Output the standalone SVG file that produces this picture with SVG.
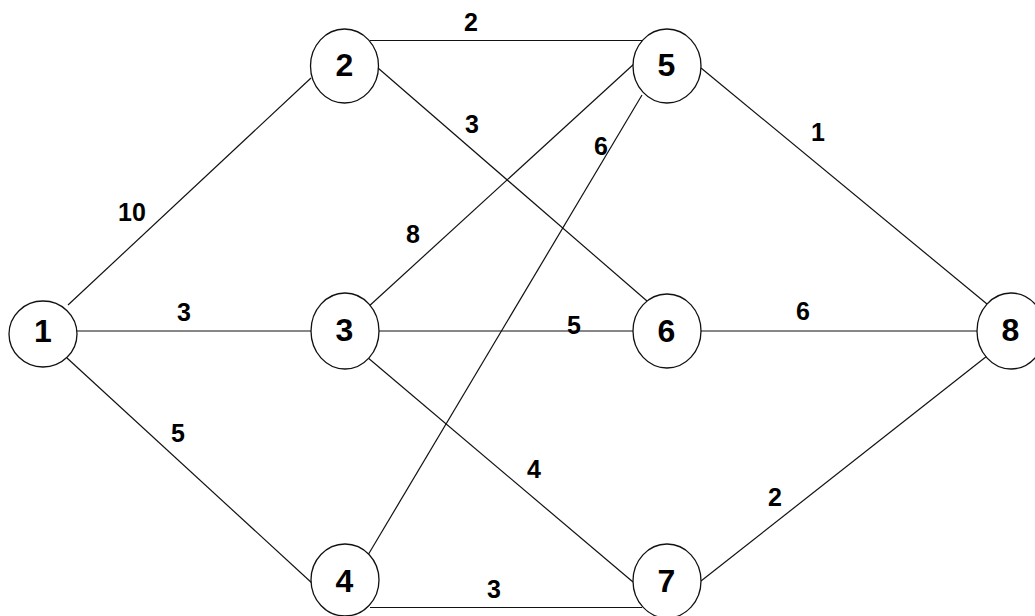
<svg xmlns="http://www.w3.org/2000/svg" width="1035" height="616" viewBox="0 0 1035 616">
<style>
.e{stroke:#111;stroke-width:1.2;fill:none}
.n{fill:#fff;stroke:#111;stroke-width:1.3}
.nt{font-family:"Liberation Sans",Arial,sans-serif;font-weight:bold;font-size:32px;fill:#000;text-anchor:middle}
.lt{font-family:"Liberation Sans",Arial,sans-serif;font-weight:bold;font-size:25px;fill:#000;text-anchor:middle}
</style>
<rect width="1035" height="616" fill="#fff"/>
<g id="connectors">
<line class="e" x1="68" y1="305" x2="311" y2="78"/>
<line class="e" x1="77" y1="331" x2="311" y2="331"/>
<line class="e" x1="67" y1="358" x2="313" y2="584"/>
<line class="e" x1="370" y1="40.5" x2="642" y2="40.5"/>
<line class="e" x1="378" y1="68" x2="647" y2="301"/>
<line class="e" x1="367" y1="308" x2="635" y2="63"/>
<line class="e" x1="368" y1="555" x2="642" y2="95"/>
<line class="e" x1="379" y1="331" x2="633" y2="331"/>
<line class="e" x1="367" y1="357" x2="633" y2="582"/>
<line class="e" x1="370" y1="607.5" x2="642" y2="607.5"/>
<line class="e" x1="701" y1="68" x2="987" y2="304"/>
<line class="e" x1="701" y1="331" x2="977" y2="331"/>
<line class="e" x1="701" y1="581" x2="987" y2="356"/>
<text class="lt" x="132" y="221">10</text>
<text class="lt" x="184" y="321">3</text>
<text class="lt" x="178" y="442">5</text>
<text class="lt" x="471" y="31">2</text>
<text class="lt" x="472" y="133">3</text>
<text class="lt" x="601" y="155">6</text>
<text class="lt" x="413" y="243">8</text>
<text class="lt" x="574" y="334">5</text>
<text class="lt" x="803" y="320">6</text>
<text class="lt" x="818" y="141">1</text>
<text class="lt" x="534" y="478">4</text>
<text class="lt" x="775" y="506">2</text>
<text class="lt" x="494" y="598">3</text>
</g>
<g id="node1"><ellipse class="n" cx="43" cy="334" rx="34" ry="33"/><text class="nt" x="43" y="341.5">1</text></g>
<g id="node2"><ellipse class="n" cx="344.5" cy="66" rx="34" ry="37"/><text class="nt" x="344.5" y="76">2</text></g>
<g id="node3"><ellipse class="n" cx="345" cy="331" rx="34" ry="38"/><text class="nt" x="344.5" y="341">3</text></g>
<g id="node4"><ellipse class="n" cx="345" cy="580" rx="34" ry="36"/><text class="nt" x="344.5" y="591.5">4</text></g>
<g id="node5"><ellipse class="n" cx="667" cy="66" rx="34" ry="37"/><text class="nt" x="666.5" y="76">5</text></g>
<g id="node6"><ellipse class="n" cx="667" cy="331" rx="34" ry="37"/><text class="nt" x="666.5" y="341.5">6</text></g>
<g id="node7"><ellipse class="n" cx="667" cy="581" rx="34" ry="37"/><text class="nt" x="666.5" y="591.5">7</text></g>
<g id="node8"><ellipse class="n" cx="1011" cy="331" rx="34" ry="38"/><text class="nt" x="1010.5" y="341">8</text></g>
</svg>
